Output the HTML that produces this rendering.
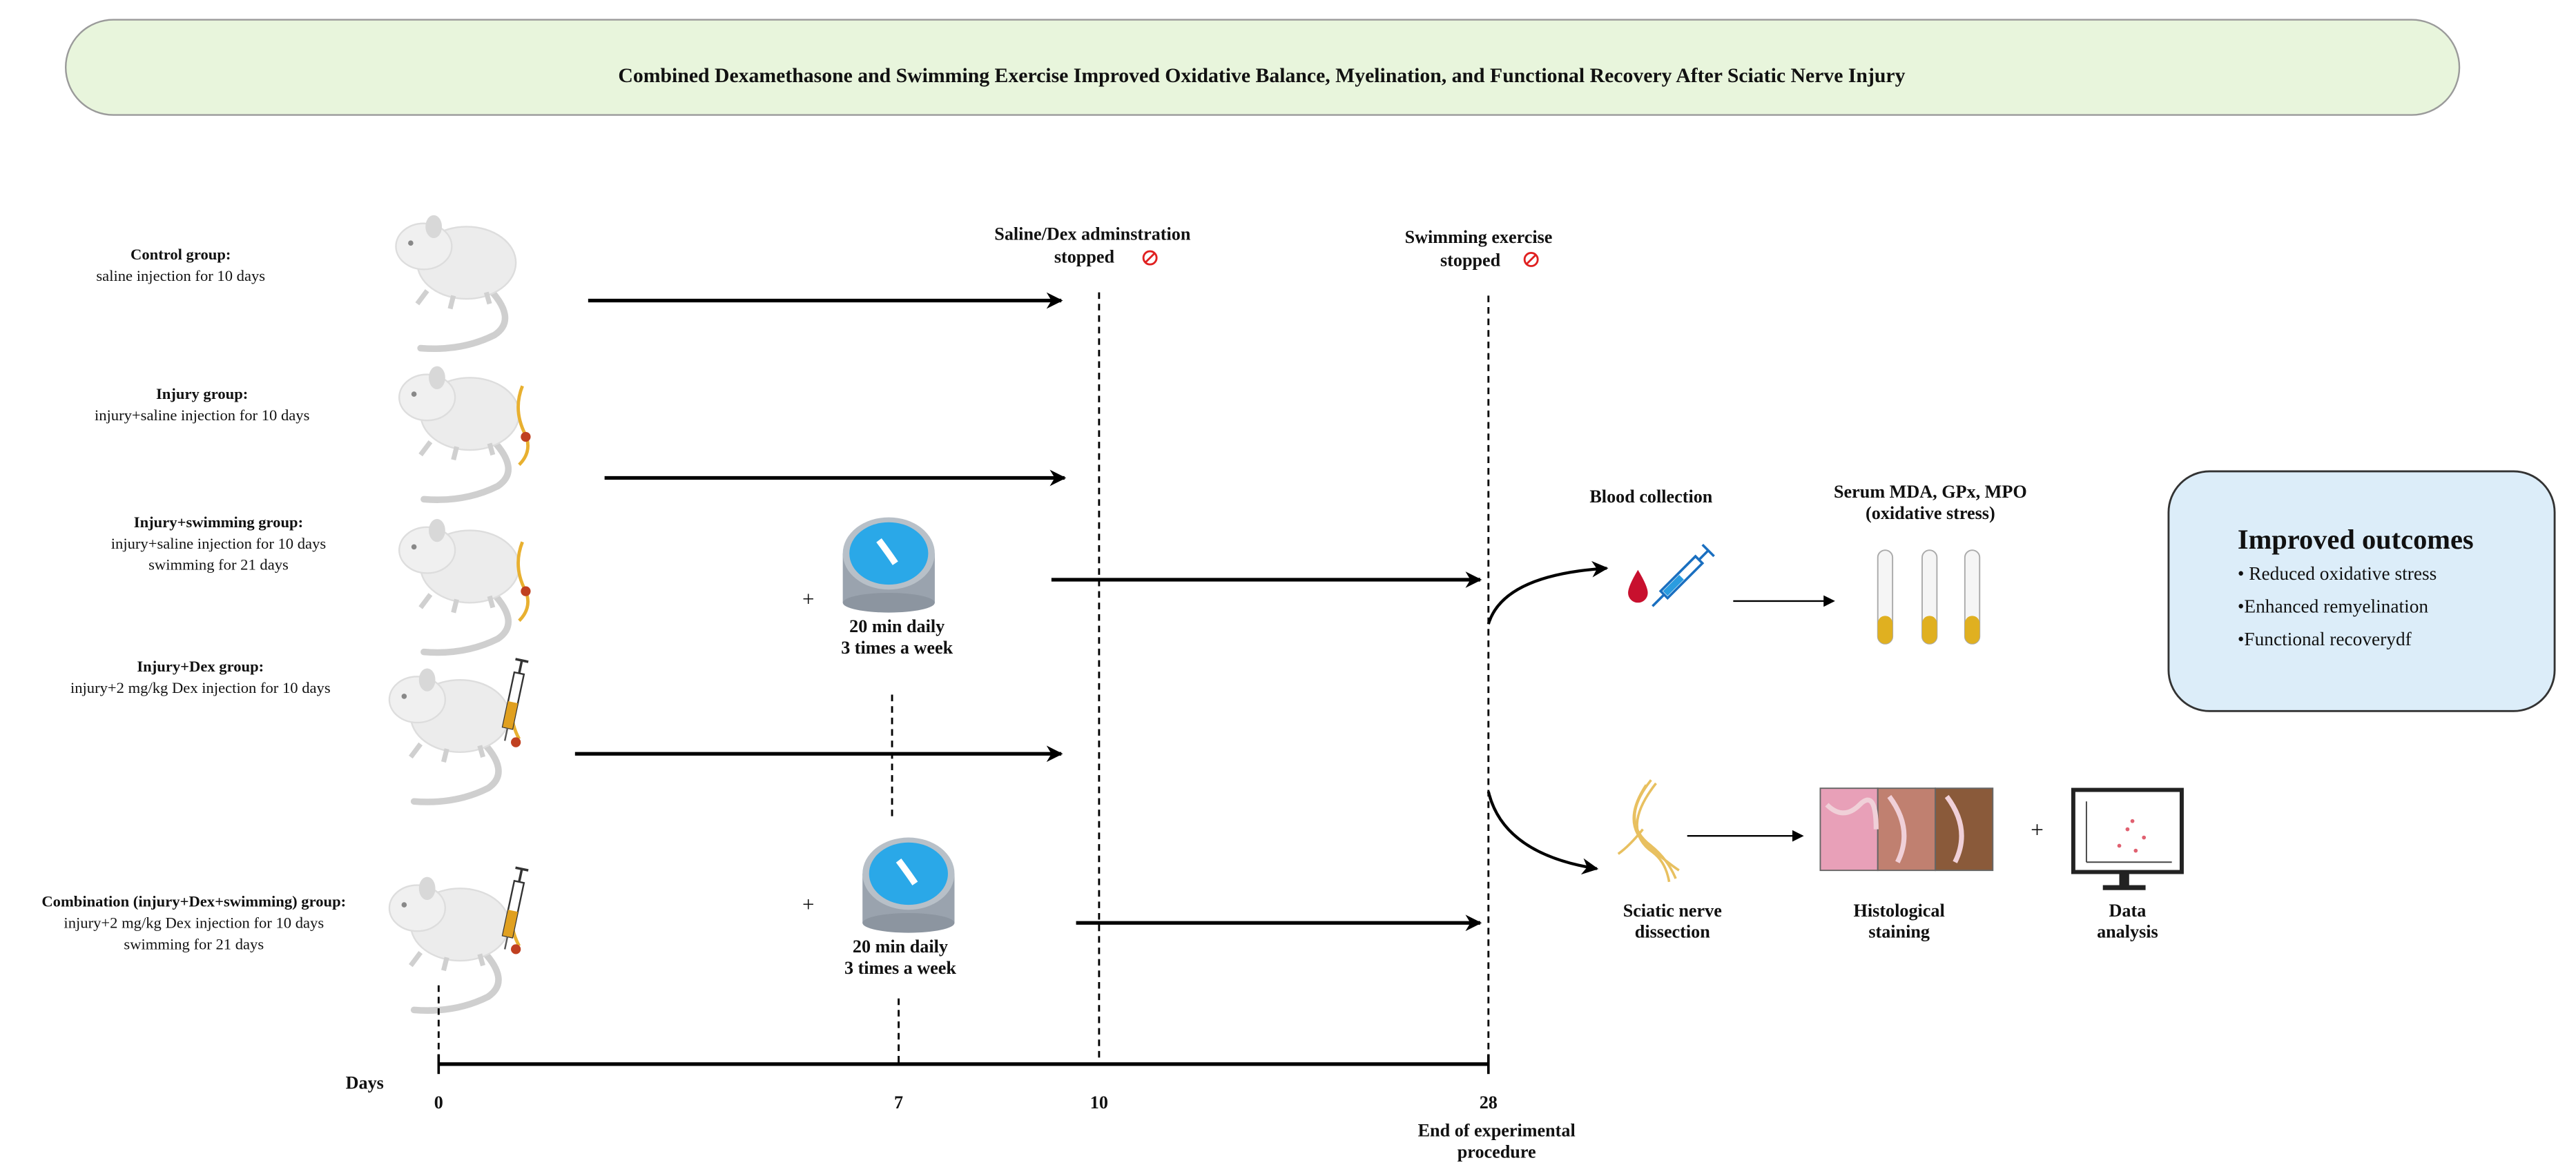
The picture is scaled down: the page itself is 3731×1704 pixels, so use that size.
<!DOCTYPE html>
<html><head><meta charset="utf-8">
<style>
html,body{margin:0;padding:0;background:#fff;}
svg{display:block;}
text{font-family:"Liberation Serif",serif;fill:#111;}
.b{font-weight:bold;}
</style></head><body>
<svg width="3731" height="1704" viewBox="0 0 1568 716.1" xmlns="http://www.w3.org/2000/svg">
<defs>
<marker id="ah" markerWidth="10" markerHeight="10" refX="9" refY="5" orient="auto" markerUnits="userSpaceOnUse">
<path d="M0,0 L10,5 L0,10 L3,5 z" fill="#000"/></marker>
<marker id="ahs" markerWidth="7" markerHeight="7" refX="6" refY="3.5" orient="auto" markerUnits="userSpaceOnUse">
<path d="M0,0 L7,3.5 L0,7 z" fill="#000"/></marker>
<g id="mouse">
<path d="M60,52 q20,20 5,30 q-20,10 -45,8" fill="none" stroke="#cfcfcf" stroke-width="4" stroke-linecap="round"/>
<ellipse cx="48" cy="38" rx="30" ry="22" fill="#ececec" stroke="#ddd"/>
<ellipse cx="22" cy="28" rx="17" ry="14" fill="#f0f0f0" stroke="#ddd"/>
<ellipse cx="28" cy="16" rx="5" ry="7" fill="#d8d8d8"/>
<circle cx="14" cy="26" r="1.6" fill="#888"/>
<path d="M24,55 l-6,8 M40,58 l-2,8 M60,56 l2,7" stroke="#d0d0d0" stroke-width="3"/>
</g>
<g id="pool">
<rect x="0" y="8" width="56" height="30" fill="#9aa3ae"/>
<ellipse cx="28" cy="38" rx="28" ry="6" fill="#8c95a0"/>
<ellipse cx="28" cy="8" rx="28" ry="22" fill="#b8c0c8"/>
<ellipse cx="28" cy="8" rx="24" ry="19" fill="#2aa8e8"/>
<path d="M22,0 q6,8 10,14" stroke="#fff" stroke-width="4" fill="none"/>
</g>
<g id="syr">
<rect x="-3" y="0" width="6" height="34" fill="#fff" stroke="#333" stroke-width="1"/>
<rect x="-3" y="18" width="6" height="16" fill="#e0a020"/>
<line x1="0" y1="-8" x2="0" y2="0" stroke="#333" stroke-width="1.5"/>
<line x1="-4" y1="-8" x2="4" y2="-8" stroke="#333" stroke-width="1.5"/>
<line x1="0" y1="34" x2="0" y2="42" stroke="#555" stroke-width="1"/>
</g>
</defs>

<rect x="40" y="12" width="1457" height="58" rx="29" fill="#e8f5dc" stroke="#9a9a9a" stroke-width="1"/>
<text x="768" y="50" text-anchor="middle" class="b" font-size="12.5">Combined Dexamethasone and Swimming Exercise Improved Oxidative Balance, Myelination, and Functional Recovery After Sciatic Nerve Injury</text>

<g font-size="9.5" text-anchor="middle">
<text x="110" y="158" class="b">Control group:</text>
<text x="110" y="171">saline injection for 10 days</text>
<text x="123" y="243" class="b">Injury group:</text>
<text x="123" y="256">injury+saline injection for 10 days</text>
<text x="133" y="321" class="b">Injury+swimming group:</text>
<text x="133" y="334">injury+saline injection for 10 days</text>
<text x="133" y="347">swimming for 21 days</text>
<text x="122" y="409" class="b">Injury+Dex group:</text>
<text x="122" y="422">injury+2 mg/kg Dex injection for 10 days</text>
<text x="118" y="552" class="b">Combination (injury+Dex+swimming) group:</text>
<text x="118" y="565">injury+2 mg/kg Dex injection for 10 days</text>
<text x="118" y="578">swimming for 21 days</text>
</g>

<use href="#mouse" x="236" y="122"/>
<use href="#mouse" x="238" y="214"/>
<use href="#mouse" x="238" y="307"/>
<use href="#mouse" x="232" y="398"/>
<use href="#mouse" x="232" y="525"/>
<g stroke="#e8b030" stroke-width="2" fill="none">
<path d="M318,235 q-6,15 2,30 q4,10 -4,18"/><path d="M318,330 q-6,15 2,30 q4,10 -4,18"/>
<path d="M314,420 q-6,15 2,30"/><path d="M314,546 q-6,15 2,30"/></g>
<circle cx="320" cy="266" r="3" fill="#c04020"/><circle cx="320" cy="360" r="3" fill="#c04020"/>
<circle cx="314" cy="452" r="3" fill="#c04020"/><circle cx="314" cy="578" r="3" fill="#c04020"/>
<use href="#syr" transform="translate(316,410) rotate(12)"/>
<use href="#syr" transform="translate(316,537) rotate(12)"/>

<g stroke="#000" stroke-width="2.2" fill="none">
<line x1="358" y1="183" x2="646" y2="183" marker-end="url(#ah)"/>
<line x1="368" y1="291" x2="648" y2="291" marker-end="url(#ah)"/>
<line x1="640" y1="353" x2="901" y2="353" marker-end="url(#ah)"/>
<line x1="350" y1="459" x2="646" y2="459" marker-end="url(#ah)"/>
<line x1="655" y1="562" x2="901" y2="562" marker-end="url(#ah)"/>
</g>

<g stroke="#000" stroke-width="1.2" stroke-dasharray="4,3" fill="none">
<line x1="669" y1="178" x2="669" y2="648"/>
<line x1="906" y1="180" x2="906" y2="648"/>
<line x1="543" y1="423" x2="543" y2="500"/>
<line x1="547" y1="608" x2="547" y2="648"/>
<line x1="267" y1="600" x2="267" y2="645"/>
</g>
<line x1="267" y1="648" x2="906" y2="648" stroke="#000" stroke-width="2.2"/>
<line x1="267" y1="642" x2="267" y2="654" stroke="#000" stroke-width="1.5"/>
<line x1="906" y1="642" x2="906" y2="654" stroke="#000" stroke-width="1.5"/>
<g font-size="11" text-anchor="middle" class="b">
<text x="222" y="663" class="b">Days</text>
<text x="267" y="675">0</text><text x="547" y="675">7</text><text x="669" y="675">10</text><text x="906" y="675">28</text>
<text x="911" y="692">End of experimental</text><text x="911" y="705">procedure</text>
<text x="665" y="146">Saline/Dex adminstration</text><text x="660" y="160">stopped</text>
<text x="900" y="148">Swimming exercise</text><text x="895" y="162">stopped</text>
</g>
<g stroke="#e02020" stroke-width="1.2" fill="none">
<circle cx="700" cy="157" r="4"/><line x1="697" y1="160" x2="703" y2="154"/>
<circle cx="932" cy="158" r="4"/><line x1="929" y1="161" x2="935" y2="155"/></g>

<use href="#pool" x="513" y="329"/>
<use href="#pool" x="525" y="524"/>
<g font-size="13" text-anchor="middle"><text x="492" y="369">+</text><text x="492" y="555">+</text></g>
<g font-size="11" text-anchor="middle" class="b">
<text x="546" y="385">20 min daily</text><text x="546" y="398">3 times a week</text>
<text x="548" y="580">20 min daily</text><text x="548" y="593">3 times a week</text>
</g>

<g stroke="#000" stroke-width="1.8" fill="none">
<path d="M906,380 Q915,350 978,346" marker-end="url(#ah)"/>
<path d="M906,482 Q915,520 972,529" marker-end="url(#ah)"/>
<line x1="1055" y1="366" x2="1116" y2="366" stroke-width="1" marker-end="url(#ahs)"/>
<line x1="1027" y1="509" x2="1097" y2="509" stroke-width="1" marker-end="url(#ahs)"/>
</g>
<path d="M997,347 q-6,10 -6,14 a6,6 0 0 0 12,0 q0,-4 -6,-14z" fill="#c8102e"/>
<g transform="translate(1020,355) rotate(45)">
<rect x="-3" y="-20" width="6" height="30" fill="#fff" stroke="#1a6fc0" stroke-width="1.5"/>
<rect x="-2" y="-5" width="4" height="14" fill="#2a9ce0"/>
<line x1="0" y1="10" x2="0" y2="20" stroke="#1a6fc0" stroke-width="1.5"/>
<line x1="0" y1="-20" x2="0" y2="-28" stroke="#1a6fc0" stroke-width="1.5"/>
<line x1="-5" y1="-28" x2="5" y2="-28" stroke="#1a6fc0" stroke-width="1.5"/></g>
<text x="1005" y="306" font-size="11" text-anchor="middle" class="b">Blood collection</text>
<text x="1175" y="303" font-size="11" text-anchor="middle" class="b">Serum MDA, GPx, MPO</text>
<text x="1175" y="316" font-size="11" text-anchor="middle" class="b">(oxidative stress)</text>
<g stroke="#aaa" stroke-width="0.8">
<rect x="1143" y="335" width="9" height="57" rx="4.5" fill="#f5f5f5"/>
<rect x="1170" y="335" width="9" height="57" rx="4.5" fill="#f5f5f5"/>
<rect x="1196" y="335" width="9" height="57" rx="4.5" fill="#f5f5f5"/></g>
<g fill="#e0b020"><rect x="1143" y="375" width="9" height="17" rx="4.5"/><rect x="1170" y="375" width="9" height="17" rx="4.5"/><rect x="1196" y="375" width="9" height="17" rx="4.5"/></g>

<rect x="1320" y="287" width="235" height="146" rx="25" fill="#dcedf9" stroke="#333" stroke-width="1.2"/>
<text x="1362" y="334" font-size="17" class="b">Improved outcomes</text>
<g font-size="11.5"><text x="1362" y="353">• Reduced oxidative stress</text>
<text x="1362" y="373">•Enhanced remyelination</text><text x="1362" y="393">•Functional recoverydf</text></g>

<g stroke="#e8c060" stroke-width="1.5" fill="none">
<path d="M1005,475 q-20,25 0,40 q10,8 15,20"/><path d="M1008,477 q-22,28 -2,42 q8,6 10,18"/>
<path d="M1002,478 q-16,24 2,38 q12,10 18,14"/><path d="M1000,505 q-8,10 -15,15"/></g>
<g stroke="#666" stroke-width="0.8">
<rect x="1108" y="480" width="35" height="50" fill="#e8a0b8"/>
<rect x="1143" y="480" width="35" height="50" fill="#c08070"/>
<rect x="1178" y="480" width="35" height="50" fill="#8a5a3a"/></g>
<path d="M1112,490 q10,10 20,0 t10,15 M1150,485 q15,20 5,40 M1185,485 q15,20 5,40" stroke="#f0d0d8" stroke-width="3" fill="none"/>
<text x="1240" y="510" font-size="14" text-anchor="middle">+</text>
<rect x="1262" y="481" width="66" height="50" fill="#fff" stroke="#222" stroke-width="2.5"/>
<rect x="1290" y="531" width="6" height="9" fill="#222"/><rect x="1280" y="539" width="26" height="3" fill="#222"/>
<g stroke="#444" stroke-width="0.8"><line x1="1270" y1="488" x2="1270" y2="525"/><line x1="1270" y1="525" x2="1322" y2="525"/></g>
<g fill="#e06070"><circle cx="1290" cy="515" r="1.2"/><circle cx="1295" cy="505" r="1.2"/><circle cx="1300" cy="518" r="1.2"/><circle cx="1305" cy="510" r="1.2"/><circle cx="1298" cy="500" r="1.2"/></g>
<g font-size="11" text-anchor="middle" class="b">
<text x="1018" y="558">Sciatic nerve</text><text x="1018" y="571">dissection</text>
<text x="1156" y="558">Histological</text><text x="1156" y="571">staining</text>
<text x="1295" y="558">Data</text><text x="1295" y="571">analysis</text>
</g>
</svg>
</body></html>
